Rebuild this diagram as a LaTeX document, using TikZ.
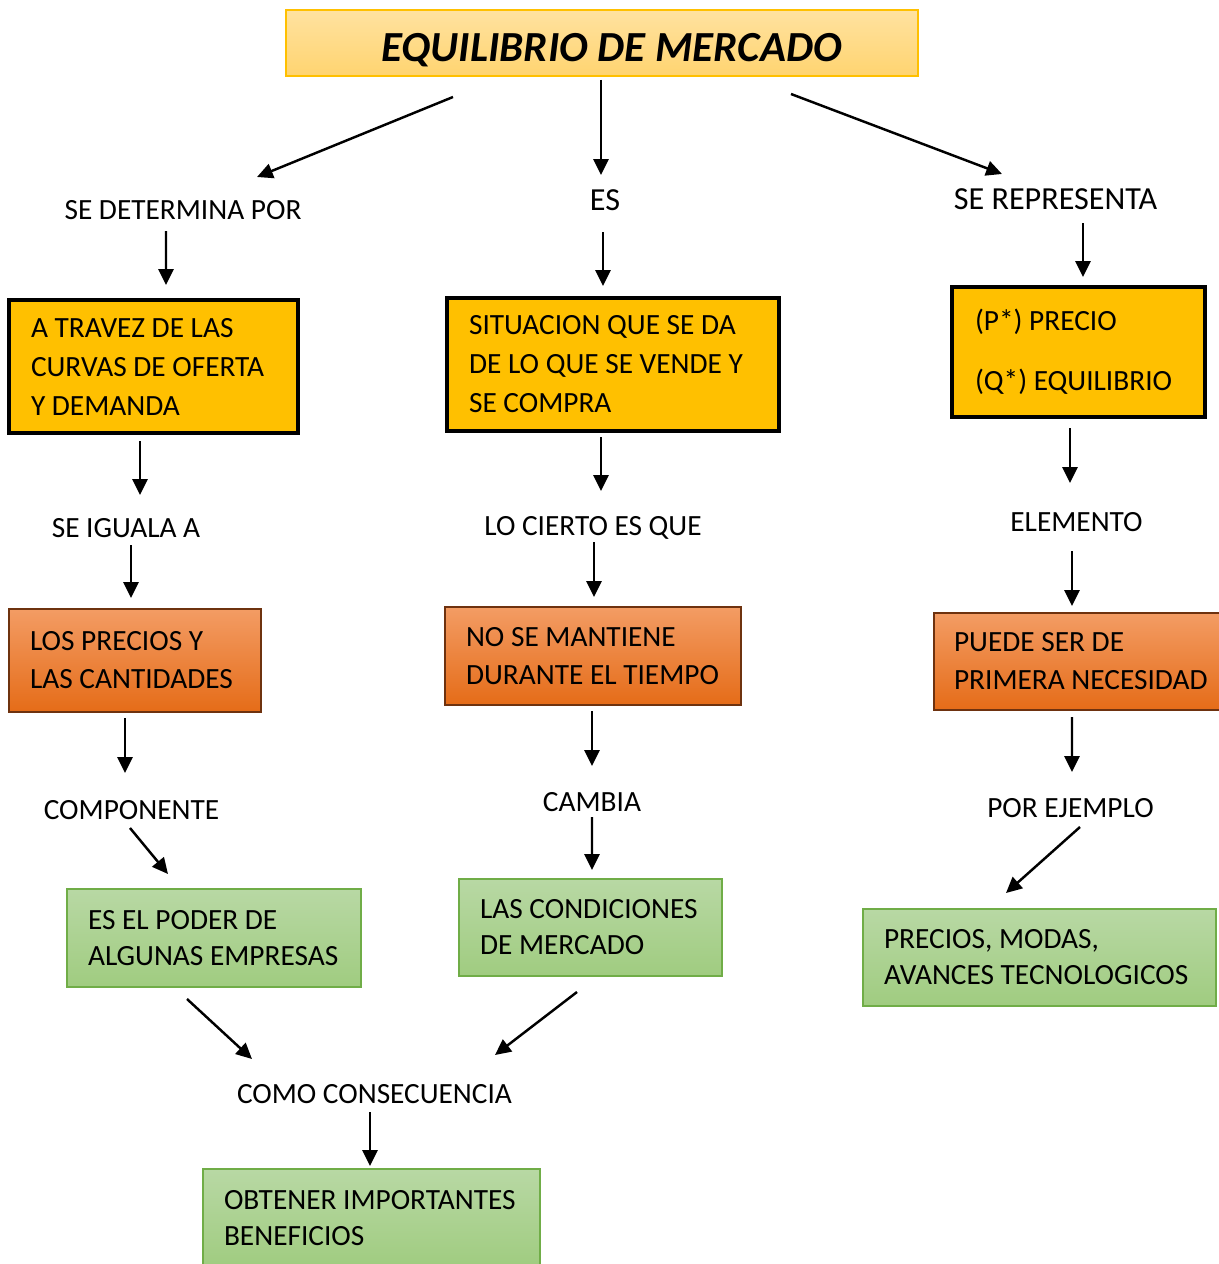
\documentclass[tikz,border=0pt]{standalone}
\usepackage{fontspec}
\setmainfont{Carlito}
\usetikzlibrary{arrows.meta}
\usetikzlibrary{calc}
\definecolor{amarillo}{RGB}{255,192,0}
\definecolor{tituloA}{RGB}{255,226,160}
\definecolor{tituloB}{RGB}{255,212,112}
\definecolor{naranjaA}{RGB}{243,156,100}
\definecolor{naranjaB}{RGB}{229,108,24}
\definecolor{bordeNaranja}{RGB}{110,50,15}
\definecolor{verdeA}{RGB}{184,216,164}
\definecolor{verdeB}{RGB}{160,204,128}
\definecolor{bordeVerde}{RGB}{112,173,71}

\begin{document}
\begin{tikzpicture}[x=0.02cm, y=-0.02cm,
		flecha/.style={line width=1.4pt, -{Triangle[length=9pt,width=8.5pt]}},
		etiq/.style={inner sep=0pt, text height=10.7pt, text depth=0pt, font=\fontsize{16.7}{22}\selectfont},
		grande/.style={text height=11.7pt, font=\fontsize{18.3}{22}\selectfont},
		amar/.style={draw=black, line width=2pt, fill=amarillo, align=flush left, inner sep=0pt, font=\fontsize{16.7}{22.2}\selectfont},
		naranja/.style={draw=bordeNaranja, line width=0.7pt, top color=naranjaA, bottom color=naranjaB, align=flush left, inner sep=0pt, font=\fontsize{16.7}{21.6}\selectfont},
		verde/.style={draw=bordeVerde, line width=0.9pt, top color=verdeA, bottom color=verdeB, align=flush left, inner sep=0pt, font=\fontsize{16.7}{20.5}\selectfont},
		dim/.style n args={3}{minimum width=#1cm, text width=#2cm, minimum height=#3cm}
		]
		\useasboundingbox (0,0) rectangle (1218,1264);
		
		% titulo
		\node [draw=amarillo, line width=0.8pt, top color=tituloA, bottom color=tituloB, minimum width=12.64cm, minimum height=1.32cm, inner sep=0pt, text height=21.6pt, text depth=0pt, font=\fontsize{24.4}{30}\selectfont\bfseries\itshape] (titulo) at (602,43) {\hspace{11pt}EQUILIBRIO DE MERCADO};
		
		% textos de enlace
		\node [etiq] (detPor) at (183,210) {SE DETERMINA POR};
		\node [etiq, grande] (es) at (605,200) {ES};
		\node [etiq, grande] (seRep) at (1055.5,199) {SE REPRESENTA};
		\node [etiq] (seIguala) at (126,528) {SE IGUALA A};
		\node [etiq] (loCierto) at (593,526) {LO CIERTO ES QUE};
		\node [etiq] (elemento) at (1076.5,522) {ELEMENTO};
		\node [etiq] (componente) at (131.5,810) {COMPONENTE};
		\node [etiq] (cambia) at (592,802) {CAMBIA};
		\node [etiq] (porEj) at (1070.5,808) {POR EJEMPLO};
		\node [etiq] (comoCons) at (374.5,1094) {COMO CONSECUENCIA};
		
		% cajas amarillas
		\node [amar, dim={5.78}{4.90}{2.66}] (curvas) at (153.5,366.5) {A TRAVEZ DE LAS\\CURVAS~DE~OFERTA\\Y DEMANDA};
		\node [amar, dim={6.64}{5.76}{2.66}] (situacion) at (613,364.5) {SITUACION QUE SE DA\\DE~LO~QUE~SE~VENDE~Y\\SE COMPRA};
		\node [amar, dim={5.06}{4.14}{2.60}] (precio) at (1078.5,352) {(P*) PRECIO\\[11.9pt](Q*) EQUILIBRIO};
		
		% cajas naranjas
		\node [naranja, dim={5.04}{4.20}{2.06}] (cantidades) at (135,660.5) {LOS PRECIOS Y\\LAS~CANTIDADES};
		\node [naranja, dim={5.92}{5.08}{1.96}] (mantiene) at (593,656) {NO SE MANTIENE\\DURANTE~EL~TIEMPO};
		\node [naranja, dim={5.90}{5.10}{1.94}] (necesidad) at (1081.5,661.5) {PUEDE SER DE\\PRIMERA~NECESIDAD};
		
		% cajas verdes
		\node [verde, dim={5.88}{5.04}{1.96}] (poder) at (214,938) {ES EL PODER DE\\ALGUNAS~EMPRESAS};
		\node [verde, dim={5.26}{4.42}{1.94}] (condiciones) at (590.5,927.5) {LAS~CONDICIONES\\DE MERCADO};
		\node [verde, dim={7.06}{6.22}{1.94}] (modas) at (1039.5,957.5) {PRECIOS, MODAS,\\AVANCES~TECNOLOGICOS};
		\node [verde, dim={6.74}{5.90}{1.96}] (beneficios) at (371.5,1218) {OBTENER~IMPORTANTES\\BENEFICIOS};
		
		% flechas
		\draw [flecha] ($(titulo)+(-149,54)$) -- ($(detPor)+(74,-33)$);
		\draw [flecha] ($(titulo)+(-1,37)$) -- ($(es)+(-4,-25)$);
		\draw [flecha] ($(titulo)+(189,51)$) -- ($(seRep)+(-53.5,-25)$);
		\draw [flecha] ($(detPor)+(-17,21)$) -- ($(curvas)+(12.5,-81.5)$);
		\draw [flecha] ($(es)+(-2,32)$) -- ($(situacion)+(-10,-78.5)$);
		\draw [flecha] ($(seRep)+(27.5,24)$) -- ($(precio)+(4.5,-75)$);
		\draw [flecha] ($(curvas)+(-13.5,74.5)$) -- ($(seIguala)+(14,-33)$);
		\draw [flecha] ($(situacion)+(-12,72.5)$) -- ($(loCierto)+(8,-35)$);
		\draw [flecha] ($(precio)+(-8.5,76)$) -- ($(elemento)+(-6.5,-39)$);
		\draw [flecha] ($(seIguala)+(5,17)$) -- ($(cantidades)+(-4,-62.5)$);
		\draw [flecha] ($(loCierto)+(1,16)$) -- ($(mantiene)+(1,-59)$);
		\draw [flecha] ($(elemento)+(-4.5,29)$) -- ($(necesidad)+(-9.5,-55.5)$);
		\draw [flecha] ($(cantidades)+(-10,57.5)$) -- ($(componente)+(-6.5,-37)$);
		\draw [flecha] ($(mantiene)+(-1,55)$) -- ($(cambia)+(0,-36)$);
		\draw [flecha] ($(necesidad)+(-9.5,55.5)$) -- ($(porEj)+(1.5,-36)$);
		\draw [flecha] ($(componente)+(-1.5,18)$) -- ($(poder)+(-46,-64)$);
		\draw [flecha] ($(cambia)+(0,15)$) -- ($(condiciones)+(1.5,-57.5)$);
		\draw [flecha] ($(porEj)+(9.5,19)$) -- ($(modas)+(-33.5,-64.5)$);
		\draw [flecha] ($(poder)+(-27,61)$) -- ($(comoCons)+(-122.5,-35)$);
		\draw [flecha] ($(condiciones)+(-13.5,64.5)$) -- ($(comoCons)+(120.5,-39)$);
		\draw [flecha] ($(comoCons)+(-4.5,18)$) -- ($(beneficios)+(-1.5,-52)$);
		
\end{tikzpicture}
\end{document}
